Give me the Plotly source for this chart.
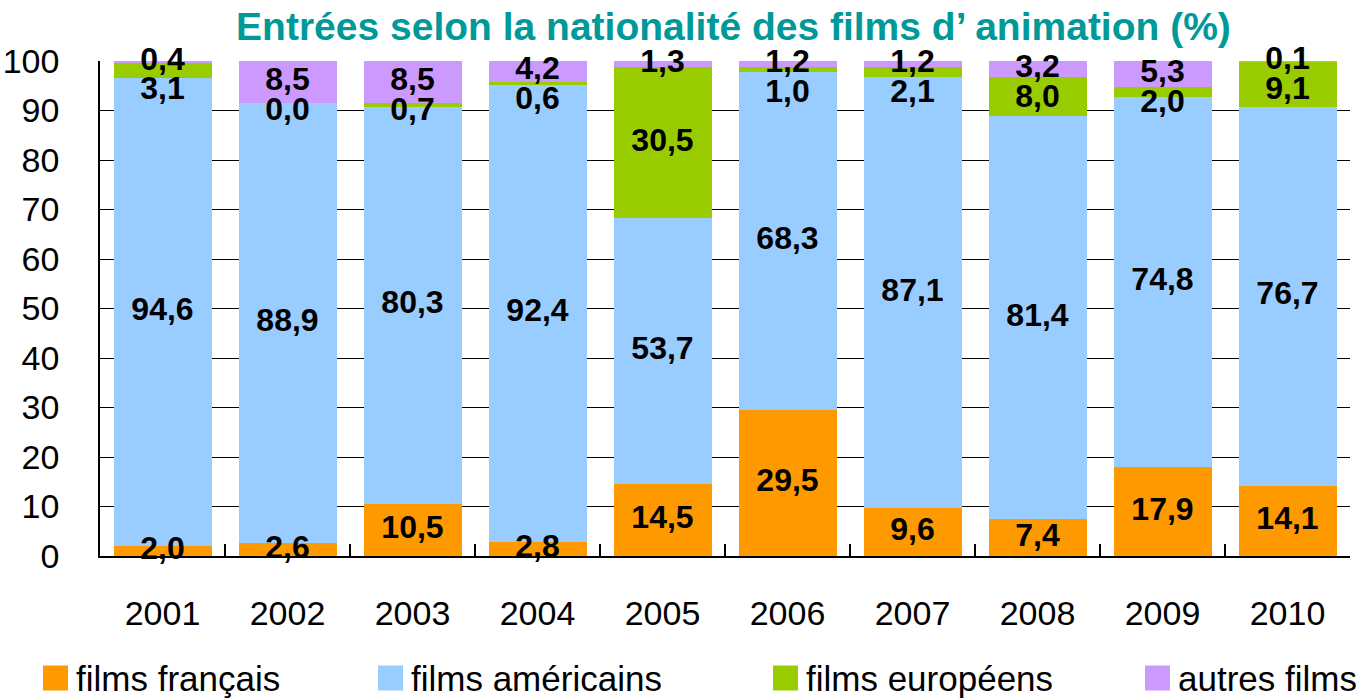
import plotly.graph_objects as go

years = ["2001", "2002", "2003", "2004", "2005", "2006", "2007", "2008", "2009", "2010"]
francais = [2.0, 2.6, 10.5, 2.8, 14.5, 29.5, 9.6, 7.4, 17.9, 14.1]
americains = [94.6, 88.9, 80.3, 92.4, 53.7, 68.3, 87.1, 81.4, 74.8, 76.7]
europeens = [3.1, 0.0, 0.7, 0.6, 30.5, 1.0, 2.1, 8.0, 2.0, 9.1]
autres = [0.4, 8.5, 8.5, 4.2, 1.3, 1.2, 1.2, 3.2, 5.3, 0.1]

series = [
    ("films français", francais, "#FF9900"),
    ("films américains", americains, "#99CCFF"),
    ("films européens", europeens, "#99CC00"),
    ("autres films", autres, "#CC99FF"),
]

FONT = "Liberation Sans"
fig = go.Figure()
for name, vals, col in series:
    fig.add_trace(go.Bar(x=years, y=vals, name=name, marker=dict(color=col, line=dict(width=0)),
                         hoverinfo="skip", showlegend=False))

# label positions: centre of each segment, pushed down if too close to label above
gap = 6.0
lx, ly, lt = [], [], []
for i, yr in enumerate(years):
    base = 0.0
    centres = []
    for _, vals, _ in series:
        centres.append(base + vals[i] / 2)
        base += vals[i]
    ys = [0.0] * len(centres)
    prev = None
    for k in range(len(centres) - 1, -1, -1):
        y = centres[k]
        if prev is not None:
            y = min(y, prev - gap)
        ys[k] = y
        prev = y
    for k, (_, vals, _) in enumerate(series):
        lx.append(yr)
        ly.append(ys[k])
        lt.append(f"{vals[i]:.1f}".replace(".", ","))

fig.add_trace(go.Scatter(x=lx, y=ly, text=lt, mode="text", showlegend=False, cliponaxis=False,
                         textfont=dict(family=FONT, size=32, color="black", weight="bold"),
                         hoverinfo="skip"))

# legend drawn as swatches + labels below the chart (paper coordinates)
leg_px = [43, 378, 773, 1145]
plot_l, plot_w = 100, 1250
plot_b, plot_h = 556, 495
sq = 25
leg_cy = 678
for (name, _, col), px in zip(series, leg_px):
    x0 = (px - plot_l) / plot_w
    x1 = (px + sq - plot_l) / plot_w
    y0 = (plot_b - (leg_cy + sq / 2)) / plot_h
    y1 = (plot_b - (leg_cy - sq / 2)) / plot_h
    fig.add_shape(type="rect", xref="paper", yref="paper", x0=x0, x1=x1, y0=y0, y1=y1,
                  fillcolor=col, line=dict(width=0))
    fig.add_annotation(xref="paper", yref="paper", x=(px + sq + 7 - plot_l) / plot_w,
                       y=(plot_b - leg_cy) / plot_h, text=name, showarrow=False,
                       xanchor="left", yanchor="middle", borderpad=0,
                       font=dict(family=FONT, size=35, color="black"))

fig.update_layout(
    barmode="stack",
    bargap=0.216,
    width=1371, height=699,
    margin=dict(l=100, r=21, t=61, b=143, autoexpand=False),
    paper_bgcolor="white", plot_bgcolor="white",
    font=dict(family=FONT, size=34, color="black"),
    showlegend=False,
    title=dict(text="Entrées selon la nationalité des films d’ animation (%)",
               font=dict(family=FONT, size=39, color="#009999", weight="bold"),
               x=0.535, xanchor="center", y=0.962, yanchor="middle"),
    xaxis=dict(showline=True, linecolor="black", linewidth=1.5, ticks="inside", tickson="boundaries",
               ticklen=12, tickcolor="black", tickwidth=1.5, ticklabelstandoff=26, showgrid=False,
               tickfont=dict(size=34)),
    yaxis=dict(range=[0, 100], dtick=10, showline=True, linecolor="black", linewidth=1.5,
               showgrid=True, gridcolor="black", gridwidth=1, ticks="", ticklabelstandoff=32,
               zeroline=False, tickfont=dict(size=34)),
)

fig.write_html("out.html", config={"displayModeBar": False},
               post_script="document.body.style.margin='0';document.body.style.overflow='hidden';")
